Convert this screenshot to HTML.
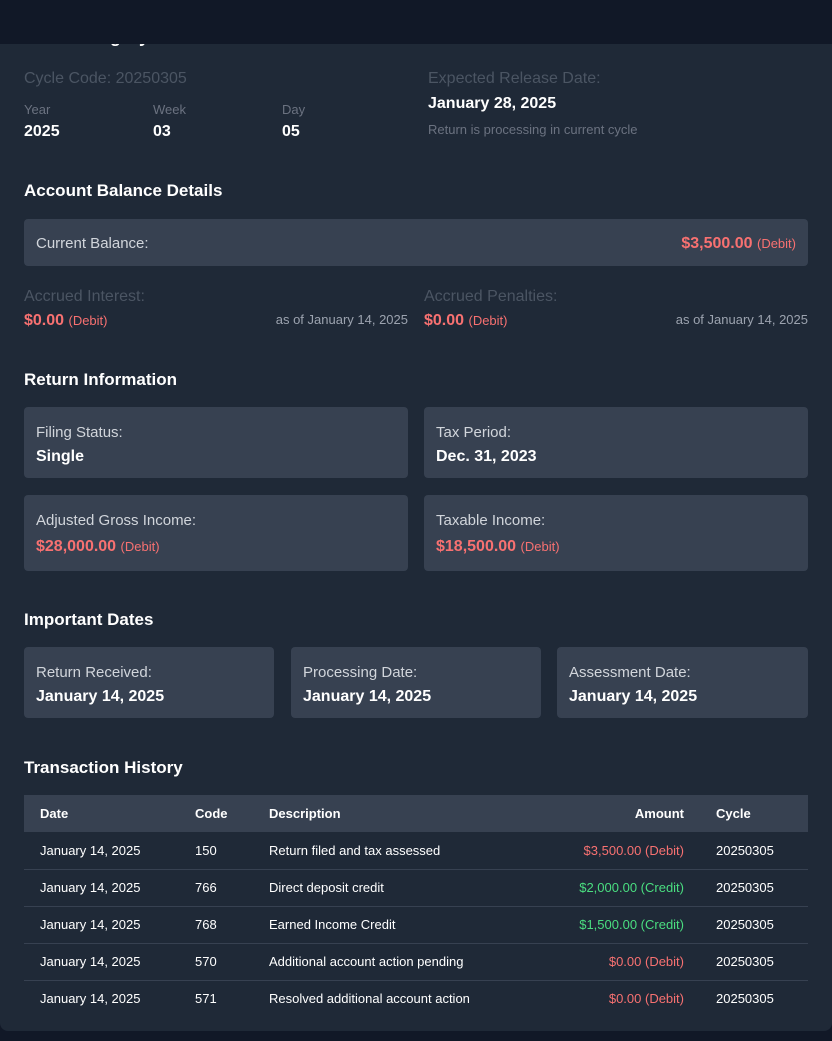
<!DOCTYPE html>
<html><head><meta charset="utf-8"><style>
*{box-sizing:border-box;margin:0;padding:0}
body{width:832px;height:1041px;background:#111827;font-family:"Liberation Sans",sans-serif;color:#fff;position:relative;overflow:hidden}
.main{position:absolute;left:0;top:0;width:832px;height:1031px;background:#1f2937;border-radius:0 0 8px 8px;overflow:hidden}
.hdr{position:absolute;left:0;top:0;width:832px;height:44px;background:#111827;z-index:2}
.abs{position:absolute;white-space:nowrap}
.muted{color:#4b5563}
.lab{color:#6b7280;font-size:13px}
.val{font-weight:bold;font-size:16px}
.h{font-weight:bold;font-size:17px}
.card{position:absolute;background:#374151;border-radius:4px}
.card .l{position:absolute;left:12px;top:17px;font-size:15px;color:#d1d5db}
.card .v{position:absolute;left:12px;top:41px;font-size:16px;font-weight:bold}
.red{color:#f87171}.green{color:#4ade80}
.sm{font-size:13px;font-weight:normal}
table{position:absolute;left:24px;top:795px;width:784px;border-collapse:collapse;font-size:13px}
th{background:#374151;height:37px;text-align:left;font-weight:bold;padding:0 16px}
td{height:37px;padding:0 16px;border-top:1px solid #374151}
tr:first-child+tr td{border-top:none}
.r{text-align:right}
</style></head><body>
<div class="main">
<div class="hdr"></div>
<div class="abs h" style="left:24px;top:26px;font-size:18px">Processing Cycle Information</div>
<div class="abs muted" style="left:24px;top:70px;font-size:16px">Cycle Code: 20250305</div>
<div class="abs lab" style="left:24px;top:102px">Year</div><div class="abs val" style="left:24px;top:123px">2025</div>
<div class="abs lab" style="left:153px;top:102px">Week</div><div class="abs val" style="left:153px;top:123px">03</div>
<div class="abs lab" style="left:282px;top:102px">Day</div><div class="abs val" style="left:282px;top:123px">05</div>
<div class="abs muted" style="left:428px;top:70px;font-size:16px">Expected Release Date:</div>
<div class="abs val" style="left:428px;top:95px">January 28, 2025</div>
<div class="abs lab" style="left:428px;top:122px">Return is processing in current cycle</div>

<div class="abs h" style="left:24px;top:181px">Account Balance Details</div>
<div class="card" style="left:24px;top:219px;width:784px;height:47px">
<div class="abs" style="left:12px;top:16px;font-size:15px;color:#d1d5db">Current Balance:</div>
<div class="abs red" style="right:12px;top:16px;font-size:16px;font-weight:bold">$3,500.00 <span class="sm">(Debit)</span></div></div>
<div class="abs muted" style="left:24px;top:288px;font-size:16px">Accrued Interest:</div>
<div class="abs red val" style="left:24px;top:312px">$0.00 <span class="sm">(Debit)</span></div>
<div class="abs lab" style="right:424px;top:312px;color:#9ca3af">as of January 14, 2025</div>
<div class="abs muted" style="left:424px;top:288px;font-size:16px">Accrued Penalties:</div>
<div class="abs red val" style="left:424px;top:312px">$0.00 <span class="sm">(Debit)</span></div>
<div class="abs lab" style="right:24px;top:312px;color:#9ca3af">as of January 14, 2025</div>

<div class="abs h" style="left:24px;top:370px">Return Information</div>
<div class="card" style="left:24px;top:407px;width:384px;height:71px"><div class="l">Filing Status:</div><div class="v">Single</div></div>
<div class="card" style="left:424px;top:407px;width:384px;height:71px"><div class="l">Tax Period:</div><div class="v">Dec. 31, 2023</div></div>
<div class="card" style="left:24px;top:495px;width:384px;height:76px"><div class="l">Adjusted Gross Income:</div><div class="v red" style="top:43px">$28,000.00 <span class="sm">(Debit)</span></div></div>
<div class="card" style="left:424px;top:495px;width:384px;height:76px"><div class="l">Taxable Income:</div><div class="v red" style="top:43px">$18,500.00 <span class="sm">(Debit)</span></div></div>

<div class="abs h" style="left:24px;top:610px">Important Dates</div>
<div class="card" style="left:24px;top:647px;width:250px;height:71px"><div class="l">Return Received:</div><div class="v">January 14, 2025</div></div>
<div class="card" style="left:291px;top:647px;width:250px;height:71px"><div class="l">Processing Date:</div><div class="v">January 14, 2025</div></div>
<div class="card" style="left:557px;top:647px;width:251px;height:71px"><div class="l">Assessment Date:</div><div class="v">January 14, 2025</div></div>

<div class="abs h" style="left:24px;top:758px">Transaction History</div>
<table>
<tr><th style="width:155px">Date</th><th style="width:74px">Code</th><th>Description</th><th class="r">Amount</th><th style="width:108px">Cycle</th></tr>
<tr><td>January 14, 2025</td><td>150</td><td>Return filed and tax assessed</td><td class="r red">$3,500.00 (Debit)</td><td>20250305</td></tr>
<tr><td>January 14, 2025</td><td>766</td><td>Direct deposit credit</td><td class="r green">$2,000.00 (Credit)</td><td>20250305</td></tr>
<tr><td>January 14, 2025</td><td>768</td><td>Earned Income Credit</td><td class="r green">$1,500.00 (Credit)</td><td>20250305</td></tr>
<tr><td>January 14, 2025</td><td>570</td><td>Additional account action pending</td><td class="r red">$0.00 (Debit)</td><td>20250305</td></tr>
<tr><td>January 14, 2025</td><td>571</td><td>Resolved additional account action</td><td class="r red">$0.00 (Debit)</td><td>20250305</td></tr>
</table>
</div>
</body></html>
